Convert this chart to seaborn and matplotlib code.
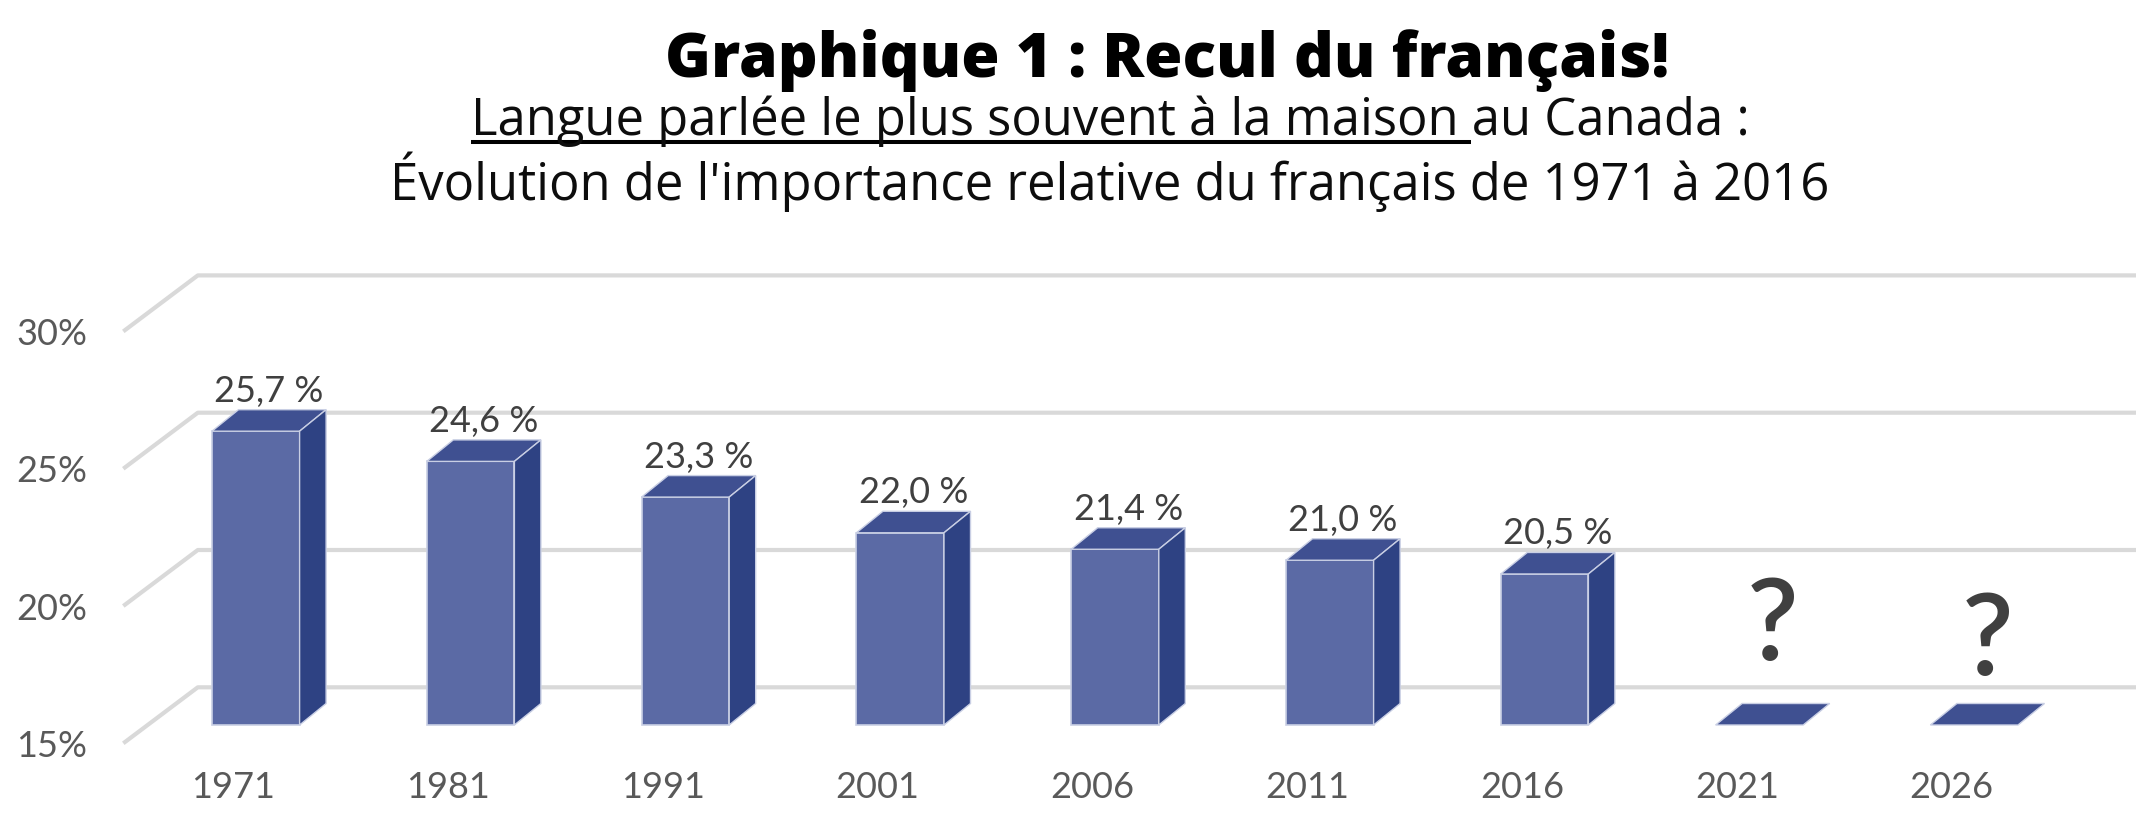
import matplotlib
matplotlib.use("Agg")
import matplotlib.pyplot as plt
import numpy as np
import pandas as pd
import seaborn as sns
from matplotlib.patches import Polygon
from matplotlib.lines import Line2D

# ---------------- data ----------------
years = ["1971", "1981", "1991", "2001", "2006", "2011", "2016", "2021", "2026"]
share = [25.7, 24.6, 23.3, 22.0, 21.4, 21.0, 20.5, None, None]
y_ticks = [15, 20, 25, 30]
y_tick_labels = ["15%", "20%", "25%", "30%"]
missing_label = "?"
title = "Graphique 1 : Recul du français!"
sub_underlined = "Langue parlée le plus souvent à la maison "
sub_rest = "au Canada :"
sub_line2 = "Évolution de l'importance relative du français de 1971 à 2016"

FLOOR = 15

# ---------------- style ----------------
sns.set_theme(style="white")
plt.rcParams['font.family'] = ['Lato', 'DejaVu Sans']

FRONT = "#5B6AA5"
TOP = "#3F5091"
SIDE = "#2E4283"
EDGE = "#c9cfe4"
GRID = "#d9d9d9"
TICK_C = "#595959"
LABEL_C = "#404040"

W, H = 2152, 832
fig = plt.figure(figsize=(W / 100, H / 100), dpi=100)
fig.patch.set_facecolor("white")

# layout (pixels of the reference)
CAT0_PX, CAT_PX = 233.3, 214.8
FLOOR_PY, PCT_PX = 743.3, 27.46
LEFT_PX, RIGHT_PX, TOP_PY = 123.3, 2136.0, 240.0


def xdata(px):
    return (px - CAT0_PX) / CAT_PX


def ydata(py):
    return FLOOR + (FLOOR_PY - py) / PCT_PX


DEPTH_DX, DEPTH_DY = 74.5 / CAT_PX, 56.0 / PCT_PX
OX, OY = 22.5 / CAT_PX, 18.3 / PCT_PX
BDX, BDY = 26.5 / CAT_PX, 21.5 / PCT_PX
BAR_W = 87.6 / CAT_PX

ax = fig.add_axes([LEFT_PX / W, (H - FLOOR_PY) / H,
                   (RIGHT_PX - LEFT_PX) / W, (FLOOR_PY - TOP_PY) / H])
ax.set_facecolor("none")

# back-wall gridlines with perspective floor diagonals
xl, xr = xdata(LEFT_PX), xdata(RIGHT_PX)
for v in y_ticks:
    ax.add_line(Line2D([xl, xl + DEPTH_DX, xr], [v, v + DEPTH_DY, v + DEPTH_DY],
                       color=GRID, lw=3.0, solid_capstyle="butt", zorder=1, clip_on=False))

# bars (front faces)
df = pd.DataFrame({
    "year": years,
    "height": [(v - FLOOR) if v is not None else 0.0 for v in share],
})
sns.barplot(data=df, x="year", y="height", order=years, width=BAR_W,
            color=FRONT, saturation=1, errorbar=None, bottom=FLOOR + OY,
            edgecolor=EDGE, linewidth=1.2, zorder=3, ax=ax)

for i, p in enumerate(ax.patches):
    p.set_x(p.get_x() + OX)
    x0 = p.get_x()
    x1 = x0 + p.get_width()
    yb = p.get_y()
    yt = yb + p.get_height()
    ax.add_patch(Polygon([(x0, yt), (x1, yt), (x1 + BDX, yt + BDY), (x0 + BDX, yt + BDY)],
                         closed=True, facecolor=TOP, edgecolor=EDGE, lw=1.0, zorder=3))
    if p.get_height() > 0:
        ax.add_patch(Polygon([(x1, yb), (x1 + BDX, yb + BDY), (x1 + BDX, yt + BDY), (x1, yt)],
                             closed=True, facecolor=SIDE, edgecolor=EDGE, lw=1.0, zorder=3))
    else:
        p.set_visible(False)
    xc = x0 + p.get_width() / 2 + BDX / 2
    v = share[i]
    if v is not None:
        lab = f"{v:.1f}".replace(".", ",") + " %"
        ax.text(xc, yt + BDY + 8 / PCT_PX, lab, ha="center", va="baseline",
                fontsize=26, color=LABEL_C, zorder=5)

# question marks for the unknown years
q_baseline_py = {"2021": 660, "2026": 675}
for i, yr in enumerate(years):
    if share[i] is None:
        p = ax.patches[i]
        xc = p.get_x() + p.get_width() / 2 + BDX / 2
        ax.text(xc, ydata(q_baseline_py[yr]), missing_label, ha="center", va="baseline",
                fontsize=82, fontweight="semibold", color=LABEL_C, zorder=5)

ax.set_xlim(xl, xr)
ax.set_ylim(FLOOR, ydata(TOP_PY))
ax.set_yticks(y_ticks, y_tick_labels)
ax.set_xlabel("")
ax.set_ylabel("")
ax.tick_params(axis="y", length=0, pad=26, labelsize=26, labelcolor=TICK_C)
ax.tick_params(axis="x", length=0, pad=20, labelsize=26, labelcolor=TICK_C)
for s in ax.spines.values():
    s.set_visible(False)
ax.grid(False)

renderer = fig.canvas.get_renderer()


def fit_width(t, target_px):
    w = t.get_window_extent(renderer).width
    t.set_fontsize(t.get_fontsize() * target_px / w)


# titles
tt = fig.text(1167 / W, 1 - 77 / H, title, ha="center", va="baseline",
              fontsize=40, fontweight="heavy", color="black",
              family=["Open Sans", "DejaVu Sans"])
fit_width(tt, 1002)

SUB_FAMILY = ["Open Sans", "Lato", "DejaVu Sans"]
line1 = sub_underlined + sub_rest
t2 = fig.text(1110 / W, 1 - 200 / H, sub_line2, ha="center", va="baseline",
              fontsize=35, color="#0d0d0d", family=SUB_FAMILY)
fit_width(t2, 1438)
sub_fs = t2.get_fontsize()
t1 = fig.text(1110 / W, 1 - 135 / H, line1, ha="center", va="baseline",
              fontsize=sub_fs, color="#0d0d0d", family=SUB_FAMILY)

bb = t1.get_window_extent(renderer)
tmp = fig.text(0, 0, sub_underlined, fontsize=sub_fs, family=SUB_FAMILY)
wu = tmp.get_window_extent(renderer).width
tmp.remove()
uy = 1 - 141.7 / H
fig.add_artist(Line2D([bb.x0 / W, (bb.x0 + wu) / W], [uy, uy], transform=fig.transFigure,
                      color="black", lw=2.9, solid_capstyle="butt"))

fig.savefig("out.png", dpi=100)
